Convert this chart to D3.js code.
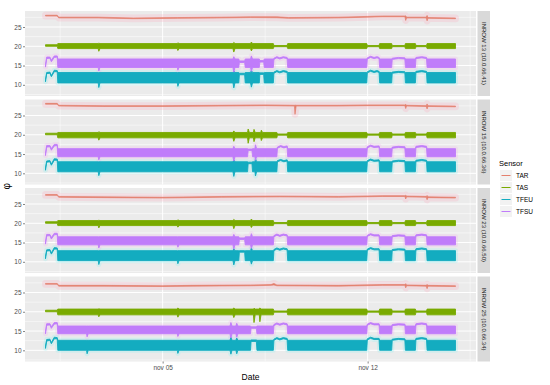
<!DOCTYPE html>
<html>
<head>
<meta charset="utf-8">
<script src="https://cdn.jsdelivr.net/npm/d3@7"></script>
<style>
  body { margin: 0; background: #fff; }
  text { font-family: "Liberation Sans", Arial, sans-serif; }
</style>
</head>
<body>
<div id="chart"></div>
<script>
// sensors and their colours
const sensors = ["TAR", "TAS", "TFEU", "TFSU"];
const sensorColors = ["#E4806E", "#79AA00", "#13ACC0", "#C07CFA"];
const haloColors = ["#FF9FB8", null, "#7FF2F2", "#F4A8F0"];
const stripLabels = ["INROW 13 (10.0.66.41)", "INROW 15 (10.0.66.36)", "INROW 23 (10.0.66.50)", "INROW 25 (10.0.66.34)"];

// axes
const yTicks = [10, 15, 20, 25];
const yMinorTicks = [7.5, 12.5, 17.5, 22.5, 27.5];
const xTickDays = [4, 11];
const xTickLabels = ["nov 05", "nov 12"];
const xMinorDays = [0.5, 7.5, 14.5];

// series: [day since nov 01, low, high] envelope of the noisy trace
const tar13 = [[0,27.85,28.05],[0.4,27.85,28.05],[0.45,27.35,27.55],[1.8,27.35,27.55],[3,27.15,27.35],[4.5,27.25,27.45],[6,27.35,27.55],[7,27.45,27.65],[7.9,27.4,27.65],[8.3,27.25,27.45],[10,27.35,27.55],[11,27.55,27.75],[11.5,27.65,27.85],[12.27,27.65,27.85],[12.3,26.7,27.9],[12.33,27.35,27.55],[13.0,27.35,27.55],[13.03,26.6,28],[13.06,27.25,27.45],[14,27.15,27.35]];
const tas13 = [[0,20,20.4],[0.4,20,20.4],[0.42,19.4,20.7],[1.8,19.4,20.7],[1.82,18.7,20.8],[1.86,19.4,20.7],[4.5,19.4,20.7],[4.52,18.9,20.9],[4.56,19.4,20.7],[6.4,19.4,20.7],[6.43,18.5,21],[6.47,19.4,20.7],[7,19.4,20.7],[7.03,18.8,21.1],[7.07,19.4,20.7],[7.78,19.4,20.7],[7.8,19.9,20.2],[8.25,19.9,20.2],[8.27,19.4,20.7],[10.97,19.4,20.7],[10.99,19.9,20.2],[11.39,19.9,20.2],[11.41,19.4,20.7],[11.82,19.4,20.7],[11.84,19.9,20.2],[12.27,19.9,20.2],[12.29,19.4,20.7],[12.63,19.4,20.7],[12.65,19.9,20.2],[13.01,19.9,20.2],[13.03,19.4,20.7],[14,19.4,20.7]];
const tfeu13 = [[0,10.8,11.4],[0.04,12.9,13.2],[0.15,13,13.3],[0.2,12.1,12.4],[0.3,13.4,13.8],[0.4,13.4,13.7],[0.42,10.5,13.2],[1.8,10.5,13.2],[1.82,9.3,13.2],[1.86,10.5,13.2],[4.5,10.5,13.2],[4.52,9.6,13.2],[4.56,10.5,13.2],[6.4,10.5,13.2],[6.43,9.2,13.6],[6.47,10.5,13.2],[6.6,10.5,13.2],[6.62,12.6,13],[6.8,12.6,13],[6.82,10.5,13.2],[7,10.5,13.2],[7.03,9.4,13.8],[7.07,10.5,13.2],[7.3,10.5,13.2],[7.32,12.7,13.1],[7.45,12.7,13.1],[7.47,10.5,13.2],[7.78,10.5,13.2],[7.8,13,13.3],[7.9,13.4,13.7],[8.0,13.1,13.4],[8.12,13.4,13.7],[8.25,13.2,13.5],[8.27,10.5,13.2],[10.97,10.5,13.2],[10.99,13.1,13.4],[11.1,13.5,13.8],[11.22,13.2,13.5],[11.32,13.4,13.7],[11.39,13.2,13.5],[11.41,10.5,13.2],[11.82,10.5,13.2],[11.84,13,13.3],[12.05,13.2,13.5],[12.27,13.1,13.4],[12.29,10.5,13.2],[12.63,10.5,13.2],[12.65,13.2,13.5],[12.85,13.4,13.7],[13.01,13.2,13.5],[13.03,10.5,13.2],[14,10.5,13.2]];
const tfsu13 = [[0,14.6,15.2],[0.04,16.8,17.2],[0.15,16.9,17.2],[0.2,16,16.4],[0.3,17.1,17.5],[0.4,17.2,17.5],[0.42,14.5,16.7],[1.8,14.5,16.7],[1.82,13.6,16.7],[1.86,14.5,16.7],[4.5,14.5,16.7],[4.52,13.8,16.7],[4.56,14.5,16.7],[6.4,14.5,16.7],[6.43,13.3,17.3],[6.47,14.5,16.7],[6.6,14.5,16.7],[6.62,15.8,16.2],[6.8,15.8,16.2],[6.82,14.5,16.7],[7,14.5,16.7],[7.03,13.5,17.5],[7.07,14.5,16.7],[7.3,14.5,16.7],[7.32,15.9,16.3],[7.45,15.9,16.3],[7.47,14.5,16.7],[7.78,14.5,16.7],[7.8,16.6,16.9],[7.9,17,17.3],[8.0,16.7,17],[8.12,17,17.3],[8.25,16.8,17.1],[8.27,14.5,16.7],[10.97,14.5,16.7],[10.99,16.7,17],[11.1,17.1,17.4],[11.22,16.8,17.1],[11.32,17,17.3],[11.39,16.8,17.1],[11.41,14.5,16.7],[11.82,14.5,16.7],[11.84,16.6,16.9],[12.05,16.8,17.1],[12.27,16.7,17],[12.29,14.5,16.7],[12.63,14.5,16.7],[12.65,16.8,17.1],[12.85,17,17.3],[13.01,16.8,17.1],[13.03,14.5,16.7],[14,14.5,16.7]];

const tar15 = [[0,27.95,28.15],[0.4,27.95,28.15],[0.45,27.45,27.65],[2,27.35,27.55],[4,27.35,27.55],[6,27.45,27.65],[7.5,27.55,27.75],[8.5,27.45,27.65],[8.52,25.3,27.7],[8.56,27.45,27.65],[10,27.45,27.65],[11,27.55,27.75],[12.27,27.55,27.75],[12.3,26.8,27.9],[12.33,27.45,27.65],[13.0,27.35,27.55],[13.03,26.7,28],[13.06,27.35,27.55],[14,27.25,27.45]];
const tas15 = [[0,20,20.4],[0.4,20,20.4],[0.42,19.2,20.6],[1.8,19.2,20.6],[1.82,18.6,20.8],[1.86,19.2,20.6],[6.4,19.2,20.6],[6.43,18.3,21],[6.47,19.2,20.6],[6.9,19.2,20.6],[6.92,17.8,21.5],[6.96,19.2,20.6],[7.1,19.2,20.6],[7.12,18.2,21.4],[7.16,19.2,20.6],[7.35,19.2,20.6],[7.37,18.5,21.2],[7.41,19.2,20.6],[7.9,19.2,20.6],[7.92,19.9,20.2],[8.25,19.9,20.2],[8.27,19.2,20.6],[10.97,19.2,20.6],[10.99,19.9,20.2],[11.39,19.9,20.2],[11.41,19.2,20.6],[11.82,19.2,20.6],[11.84,19.9,20.2],[12.27,19.9,20.2],[12.29,19.2,20.6],[12.63,19.2,20.6],[12.65,19.9,20.2],[13.01,19.9,20.2],[13.03,19.2,20.6],[14,19.2,20.6]];
const tfeu15 = [[0,10.8,11.4],[0.04,12.9,13.2],[0.15,13,13.3],[0.2,12.1,12.4],[0.3,13.4,13.8],[0.4,13.4,13.7],[0.42,10.4,13],[1.8,10.4,13],[1.82,9.4,13],[1.86,10.4,13],[6.4,10.4,13],[6.43,9.2,13.5],[6.47,10.4,13],[6.9,10.4,13],[6.92,12.5,12.9],[7.05,12.5,12.9],[7.07,10.4,13],[7.15,10.4,13],[7.17,9.3,13.8],[7.21,10.4,13],[7.9,10.4,13],[7.92,13,13.3],[8.03,13.3,13.6],[8.14,13,13.3],[8.25,13.2,13.5],[8.27,10.4,13],[10.97,10.4,13],[10.99,13,13.3],[11.1,13.4,13.7],[11.22,13.1,13.4],[11.39,13.2,13.5],[11.41,10.4,13],[11.82,10.4,13],[11.84,12.9,13.2],[12.05,13.1,13.4],[12.27,13,13.3],[12.29,10.4,13],[12.63,10.4,13],[12.65,13.1,13.4],[12.85,13.3,13.6],[13.01,13.1,13.4],[13.03,10.4,13],[14,10.4,13]];
const tfsu15 = [[0,14.6,15.2],[0.04,16.8,17.2],[0.15,16.9,17.2],[0.2,16,16.4],[0.3,17.1,17.5],[0.4,17.2,17.5],[0.42,14.3,16.4],[1.8,14.3,16.4],[1.82,13.5,16.4],[1.86,14.3,16.4],[6.4,14.3,16.4],[6.43,13.2,17],[6.47,14.3,16.4],[6.9,14.3,16.4],[6.92,15.9,16.3],[7.05,15.9,16.3],[7.07,14.3,16.4],[7.15,14.3,16.4],[7.17,13.4,17.4],[7.21,14.3,16.4],[7.9,14.3,16.4],[7.92,16.5,16.8],[8.03,16.9,17.2],[8.14,16.6,16.9],[8.25,16.8,17.1],[8.27,14.3,16.4],[10.97,14.3,16.4],[10.99,16.6,16.9],[11.1,17,17.3],[11.22,16.7,17],[11.39,16.8,17.1],[11.41,14.3,16.4],[11.82,14.3,16.4],[11.84,16.5,16.8],[12.05,16.7,17],[12.27,16.6,16.9],[12.29,14.3,16.4],[12.63,14.3,16.4],[12.65,16.7,17],[12.85,16.9,17.2],[13.01,16.7,17],[13.03,14.3,16.4],[14,14.3,16.4]];

const tar23 = [[0,27.25,27.45],[0.4,27.25,27.45],[0.45,26.75,26.95],[2,26.65,26.85],[4,26.55,26.75],[6,26.75,26.95],[8,26.85,27.05],[10,26.75,26.95],[11.5,26.95,27.15],[12.27,26.95,27.15],[12.3,26.3,27.3],[12.33,26.85,27.05],[13.0,26.75,26.95],[13.03,26.1,27.2],[13.06,26.65,26.85],[14,26.55,26.75]];
const tas23 = [[0,20,20.4],[0.4,20,20.4],[0.42,19.4,20.7],[1.8,19.4,20.7],[1.82,18.8,20.8],[1.86,19.4,20.7],[4.5,19.4,20.7],[4.52,19,20.9],[4.56,19.4,20.7],[6.4,19.4,20.7],[6.43,18.6,21],[6.47,19.4,20.7],[7,19.4,20.7],[7.03,18.9,21.1],[7.07,19.4,20.7],[7.78,19.4,20.7],[7.8,19.9,20.2],[8.25,19.9,20.2],[8.27,19.4,20.7],[10.97,19.4,20.7],[10.99,19.9,20.2],[11.39,19.9,20.2],[11.41,19.4,20.7],[11.82,19.4,20.7],[11.84,19.9,20.2],[12.27,19.9,20.2],[12.29,19.4,20.7],[12.63,19.4,20.7],[12.65,19.9,20.2],[13.01,19.9,20.2],[13.03,19.4,20.7],[14,19.4,20.7]];
const tfeu23 = [[0,10.8,11.4],[0.04,12.8,13.1],[0.15,12.9,13.2],[0.2,12,12.3],[0.3,13.3,13.7],[0.4,13.3,13.6],[0.42,10.3,12.9],[1.8,10.3,12.9],[1.82,9.3,12.9],[1.86,10.3,12.9],[4.5,10.3,12.9],[4.52,9.5,12.9],[4.56,10.3,12.9],[6.4,10.3,12.9],[6.43,9.2,13.4],[6.47,10.3,12.9],[6.6,10.3,12.9],[6.62,12.5,12.9],[6.8,12.5,12.9],[6.82,10.3,12.9],[7,10.3,12.9],[7.03,9.4,13.6],[7.07,10.3,12.9],[7.78,10.3,12.9],[7.8,12.9,13.2],[7.9,13.3,13.6],[8.0,13,13.3],[8.12,13.3,13.6],[8.25,13.1,13.4],[8.27,10.3,12.9],[10.97,10.3,12.9],[10.99,13,13.3],[11.1,13.4,13.7],[11.22,13.1,13.4],[11.39,13.1,13.4],[11.41,10.3,12.9],[11.82,10.3,12.9],[11.84,12.9,13.2],[12.05,13.1,13.4],[12.27,13,13.3],[12.29,10.3,12.9],[12.63,10.3,12.9],[12.65,13.1,13.4],[12.85,13.3,13.6],[13.01,13.1,13.4],[13.03,10.3,12.9],[14,10.3,12.9]];
const tfsu23 = [[0,14.6,15.2],[0.04,16.7,17.1],[0.15,16.8,17.1],[0.2,15.9,16.3],[0.3,17,17.4],[0.4,17.1,17.4],[0.42,14.4,16.5],[1.8,14.4,16.5],[1.82,13.6,16.5],[1.86,14.4,16.5],[4.5,14.4,16.5],[4.52,13.8,16.5],[4.56,14.4,16.5],[6.4,14.4,16.5],[6.43,13.3,17.1],[6.47,14.4,16.5],[6.6,14.4,16.5],[6.62,15.8,16.2],[6.8,15.8,16.2],[6.82,14.4,16.5],[7,14.4,16.5],[7.03,13.5,17.3],[7.07,14.4,16.5],[7.78,14.4,16.5],[7.8,16.5,16.8],[7.9,16.9,17.2],[8.0,16.6,16.9],[8.12,16.9,17.2],[8.25,16.7,17],[8.27,14.4,16.5],[10.97,14.4,16.5],[10.99,16.6,16.9],[11.1,17,17.3],[11.22,16.7,17],[11.39,16.7,17],[11.41,14.4,16.5],[11.82,14.4,16.5],[11.84,16.5,16.8],[12.05,16.7,17],[12.27,16.6,16.9],[12.29,14.4,16.5],[12.63,14.4,16.5],[12.65,16.7,17],[12.85,16.9,17.2],[13.01,16.7,17],[13.03,14.4,16.5],[14,14.4,16.5]];

const tar25 = [[0,27.15,27.35],[0.4,27.15,27.35],[0.45,26.65,26.85],[2,26.65,26.85],[4,26.55,26.75],[5,26.65,26.85],[7,26.75,26.95],[7.7,26.85,27.05],[7.8,26.95,27.35],[7.9,26.75,26.95],[10,26.65,26.85],[11.5,26.85,27.05],[12.27,26.85,27.05],[12.3,26.2,27.3],[12.33,26.75,26.95],[13.0,26.65,26.85],[13.03,26,27.1],[13.06,26.65,26.85],[14,26.55,26.75]];
const tas25 = [[0,20,20.4],[0.4,20,20.4],[0.42,19.2,20.7],[1.8,19.2,20.7],[1.82,18.7,20.8],[1.86,19.2,20.7],[4.5,19.2,20.7],[4.52,18.6,21],[4.56,19.2,20.7],[6.4,19.2,20.7],[6.43,18.5,21],[6.47,19.2,20.7],[7.1,19.2,20.7],[7.12,17.2,20.9],[7.16,19.2,20.7],[7.3,19.2,20.7],[7.32,17.4,21],[7.36,19.2,20.7],[7.78,19.2,20.7],[7.8,19.9,20.2],[8.25,19.9,20.2],[8.27,19.2,20.7],[10.97,19.2,20.7],[10.99,19.9,20.2],[11.39,19.9,20.2],[11.41,19.2,20.7],[11.82,19.2,20.7],[11.84,19.9,20.2],[12.27,19.9,20.2],[12.29,19.2,20.7],[12.63,19.2,20.7],[12.65,19.9,20.2],[13.01,19.9,20.2],[13.03,19.2,20.7],[14,19.2,20.7]];
const tfeu25 = [[0,10.5,11.1],[0.04,12.4,12.8],[0.15,12.6,12.9],[0.2,11.7,12],[0.3,13,13.4],[0.4,13,13.3],[0.42,10,12.6],[1.4,10,12.6],[1.42,9.1,12.6],[1.46,10,12.6],[4.5,10,12.6],[4.52,9.2,12.6],[4.56,10,12.6],[6.3,10,12.6],[6.33,9,13.4],[6.37,10,12.6],[6.5,10,12.6],[6.53,9.1,13.2],[6.57,10,12.6],[7,10,12.6],[7.02,12.3,12.7],[7.2,12.3,12.7],[7.22,10,12.6],[7.78,10,12.6],[7.8,12.6,12.9],[7.9,13,13.3],[8.0,12.7,13],[8.12,13,13.3],[8.25,12.8,13.1],[8.27,10,12.6],[10.97,10,12.6],[10.99,12.7,13],[11.1,13.1,13.4],[11.22,12.8,13.1],[11.39,12.8,13.1],[11.41,10,12.6],[11.82,10,12.6],[11.84,12.6,12.9],[12.05,12.8,13.1],[12.27,12.7,13],[12.29,10,12.6],[12.63,10,12.6],[12.65,12.8,13.1],[12.85,13,13.3],[13.01,12.8,13.1],[13.03,10,12.6],[14,10,12.6]];
const tfsu25 = [[0,14.3,14.9],[0.04,16.5,16.9],[0.15,16.6,16.9],[0.2,15.7,16.1],[0.3,16.8,17.2],[0.4,16.9,17.2],[0.42,14.3,16.3],[1.4,14.3,16.3],[1.42,13.5,16.3],[1.46,14.3,16.3],[4.5,14.3,16.3],[4.52,13.6,16.3],[4.56,14.3,16.3],[6.3,14.3,16.3],[6.33,13.2,17.2],[6.37,14.3,16.3],[6.5,14.3,16.3],[6.53,13.4,17],[6.57,14.3,16.3],[7,14.3,16.3],[7.02,15.7,16.1],[7.2,15.7,16.1],[7.22,14.3,16.3],[7.78,14.3,16.3],[7.8,16.4,16.7],[7.9,16.8,17.1],[8.0,16.5,16.8],[8.12,16.8,17.1],[8.25,16.6,16.9],[8.27,14.3,16.3],[10.97,14.3,16.3],[10.99,16.5,16.8],[11.1,16.9,17.2],[11.22,16.6,16.9],[11.39,16.6,16.9],[11.41,14.3,16.3],[11.82,14.3,16.3],[11.84,16.4,16.7],[12.05,16.6,16.9],[12.27,16.5,16.8],[12.29,14.3,16.3],[12.63,14.3,16.3],[12.65,16.6,16.9],[12.85,16.8,17.1],[13.01,16.6,16.9],[13.03,14.3,16.3],[14,14.3,16.3]];

const panels = [
  { label: stripLabels[0], series: [tar13, tas13, tfeu13, tfsu13] },
  { label: stripLabels[1], series: [tar15, tas15, tfeu15, tfsu15] },
  { label: stripLabels[2], series: [tar23, tas23, tfeu23, tfsu23] },
  { label: stripLabels[3], series: [tar25, tas25, tfeu25, tfsu25] },
];

(function () {
  "use strict";
  const width = 550, height = 385;
  const left = 25, right = 476;
  const panelTop = 11, panelHeight = 85, panelStep = 88.5;
  const stripX = 477.5, stripW = 12.5;

  const start = new Date(2019, 10, 1);
  const day = (d) => new Date(start.getTime() + d * 864e5);

  // ggplot-like 5% expansion around the data span (0 .. 14 days)
  const x = d3.scaleTime().domain([day(-0.7), day(14.7)]).range([left, right]);
  const y = d3.scaleLinear().domain([7.1, 29.15]).range([panelHeight, 0]);

  const svg = d3.select("#chart").append("svg")
    .attr("width", width).attr("height", height);

  const area = d3.area()
    .x((d) => x(day(d[0])))
    .y0((d) => y(d[1]))
    .y1((d) => y(d[2]));

  panels.forEach((p, i) => {
    const top = panelTop + i * panelStep;
    const g = svg.append("g").attr("transform", `translate(0,${top})`);

    g.append("rect")
      .attr("x", left).attr("y", 0)
      .attr("width", right - left).attr("height", panelHeight)
      .attr("fill", "#EBEBEB");

    // grid
    g.selectAll("line.ymin").data(yMinorTicks).enter().append("line")
      .attr("x1", left).attr("x2", right)
      .attr("y1", (d) => y(d)).attr("y2", (d) => y(d))
      .attr("stroke", "#fff").attr("stroke-width", 0.5);
    g.selectAll("line.xmin").data(xMinorDays).enter().append("line")
      .attr("x1", (d) => x(day(d))).attr("x2", (d) => x(day(d)))
      .attr("y1", 0).attr("y2", panelHeight)
      .attr("stroke", "#fff").attr("stroke-width", 0.5);
    g.selectAll("line.ymaj").data(yTicks).enter().append("line")
      .attr("x1", left).attr("x2", right)
      .attr("y1", (d) => y(d)).attr("y2", (d) => y(d))
      .attr("stroke", "#fff").attr("stroke-width", 1);
    g.selectAll("line.xmaj").data(xTickDays).enter().append("line")
      .attr("x1", (d) => x(day(d))).attr("x2", (d) => x(day(d)))
      .attr("y1", 0).attr("y2", panelHeight)
      .attr("stroke", "#fff").attr("stroke-width", 1);

    g.append("clipPath").attr("id", `clip${i}`)
      .append("rect").attr("x", left).attr("y", 0)
      .attr("width", right - left).attr("height", panelHeight);
    const plot = g.append("g").attr("clip-path", `url(#clip${i})`);

    // soft colour fringe seen round the dense traces in the picture
    plot.append("g").selectAll("path")
      .data(p.series.map((s, k) => ({ s, k })).filter((d) => haloColors[d.k]))
      .enter().append("path")
      .attr("d", (d) => area(d.s))
      .attr("fill", (d) => haloColors[d.k])
      .attr("stroke", (d) => haloColors[d.k])
      .attr("stroke-width", (d) => (d.k == 0 ? 7 : 5))
      .attr("stroke-linejoin", "round")
      .attr("opacity", 0.22);

    // series
    plot.append("g")
      .selectAll("path").data(p.series).enter().append("path")
      .attr("d", area)
      .attr("fill", (d, k) => sensorColors[k])
      .attr("stroke", (d, k) => sensorColors[k])
      .attr("stroke-width", (d, k) => (k == 0 ? 0.7 : 0.9))
      .attr("stroke-linejoin", "round");

    // y axis
    const ya = g.append("g").attr("transform", `translate(${left},0)`)
      .call(d3.axisLeft(y).tickValues(yTicks).tickSize(2).tickPadding(1.5));
    ya.select(".domain").remove();
    ya.selectAll("line").attr("stroke", "#333").attr("stroke-width", 0.6);
    ya.selectAll("text").attr("fill", "#4D4D4D").style("font-size", "6.5px");

    // strip
    g.append("rect")
      .attr("x", stripX).attr("y", 0)
      .attr("width", stripW).attr("height", panelHeight)
      .attr("fill", "#D9D9D9");
    g.append("text")
      .attr("transform", `translate(${stripX + stripW / 2},${panelHeight / 2}) rotate(90)`)
      .attr("text-anchor", "middle").attr("dy", "0.35em")
      .attr("fill", "#1A1A1A").style("font-size", "6px")
      .text(p.label);
  });

  // x axis
  const bottom = panelTop + 3 * panelStep + panelHeight;
  const xa = svg.append("g").attr("transform", `translate(0,${bottom})`)
    .call(d3.axisBottom(x).tickValues(xTickDays.map(day))
      .tickFormat((d, i) => xTickLabels[i]).tickSize(2).tickPadding(1.5));
  xa.select(".domain").remove();
  xa.selectAll("line").attr("stroke", "#333").attr("stroke-width", 0.6);
  xa.selectAll("text").attr("fill", "#4D4D4D").style("font-size", "6.5px");

  svg.append("text")
    .attr("x", (left + right) / 2).attr("y", 380)
    .attr("text-anchor", "middle").style("font-size", "8.5px").attr("fill", "#000")
    .text("Date");
  svg.append("text")
    .attr("transform", `translate(10,${(panelTop + bottom) / 2}) rotate(-90)`)
    .attr("text-anchor", "middle").style("font-size", "10px").attr("fill", "#000")
    .text("φ");

  // legend
  const lg = svg.append("g").attr("transform", "translate(499,0)");
  lg.append("text").attr("x", 0).attr("y", 166)
    .style("font-size", "7.5px").attr("fill", "#000").text("Sensor");
  const items = lg.selectAll("g.item").data(sensors).enter().append("g")
    .attr("transform", (d, k) => `translate(0,${170 + k * 12})`);
  items.append("rect").attr("x", 1).attr("y", 0).attr("width", 12).attr("height", 11)
    .attr("fill", "#F2F2F2");
  items.append("line").attr("x1", 2.5).attr("x2", 11.5).attr("y1", 5.5).attr("y2", 5.5)
    .attr("stroke", (d, k) => sensorColors[k]).attr("stroke-width", 1);
  items.append("text").attr("x", 17).attr("y", 5.5).attr("dy", "0.35em")
    .style("font-size", "6.5px").attr("fill", "#000").text((d) => d);
})();
</script>
</body>
</html>
